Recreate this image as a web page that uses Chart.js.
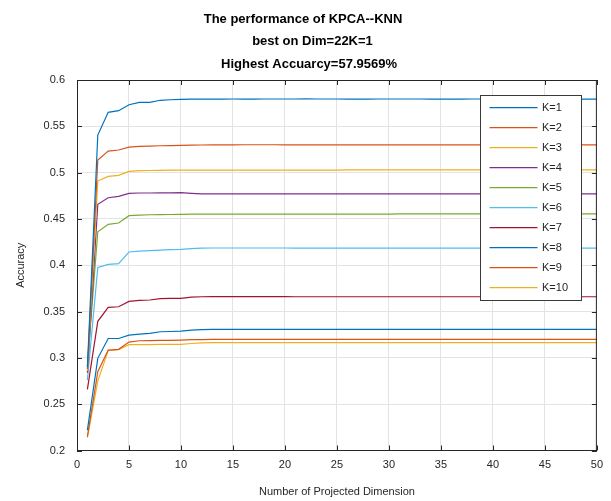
<!DOCTYPE html>
<html>
<head>
<meta charset="utf-8">
<script src="https://cdn.jsdelivr.net/npm/chart.js@4/dist/chart.umd.min.js"></script>
<style>
  html, body { margin: 0; padding: 0; background: #ffffff; }
  #wrap { width: 611px; height: 501px; position: relative; }
</style>
</head>
<body>
<div id="wrap"><canvas id="c" width="611" height="501"></canvas></div>
<script>
// Projected dimensions (x axis)
const dims = [1,2,3,4,5,6,7,8,9,10,11,12,13,14,15,16,17,18,19,20,21,22,23,24,25,
              26,27,28,29,30,31,32,33,34,35,36,37,38,39,40,41,42,43,44,45,46,47,48,49,50];

// Accuracy per number of neighbours K
const accK1 = [0.2900,0.5406,0.5651,0.5669,0.5733,0.5759,0.5759,0.5781,0.5787,0.5791,
               0.5793,0.5794,0.5794,0.5794,0.5795,0.5794,0.5794,0.5795,0.5795,0.5795,
               0.5795,0.579569,0.5795,0.5795,0.5795,0.5794,0.5794,0.5794,0.5795,0.5795,
               0.5795,0.5795,0.5795,0.5794,0.5794,0.5794,0.5794,0.5795,0.5795,0.5795,
               0.5795,0.5795,0.5795,0.5795,0.5794,0.5794,0.5794,0.5794,0.5794,0.5794];
const accK2 = [0.2880,0.5136,0.5233,0.5244,0.5276,0.5284,0.5287,0.5290,0.5292,0.5295,
               0.5297,0.5298,0.5299,0.5300,0.5300,0.5301,0.5301,0.5301,0.5301,0.5300,
               0.5300,0.5300,0.5300,0.5300,0.5300,0.5300,0.5300,0.5300,0.5300,0.5300,
               0.5300,0.5300,0.5300,0.5300,0.5300,0.5300,0.5300,0.5300,0.5300,0.5300,
               0.5300,0.5300,0.5300,0.5300,0.5300,0.5300,0.5300,0.5300,0.5300,0.5300];
const accK3 = [0.2860,0.4909,0.4960,0.4971,0.5014,0.5021,0.5023,0.5025,0.5026,0.5027,
               0.5028,0.5028,0.5028,0.5028,0.5028,0.5028,0.5028,0.5028,0.5028,0.5028,
               0.5028,0.5028,0.5028,0.5028,0.5028,0.5029,0.5029,0.5029,0.5029,0.5029,
               0.5029,0.5029,0.5029,0.5029,0.5029,0.5029,0.5030,0.5030,0.5030,0.5030,
               0.5030,0.5030,0.5030,0.5030,0.5030,0.5030,0.5030,0.5030,0.5030,0.5030];
const accK4 = [0.2840,0.4658,0.4729,0.4744,0.4776,0.4780,0.4780,0.4781,0.4782,0.4783,
               0.4776,0.4771,0.4770,0.4770,0.4770,0.4770,0.4770,0.4770,0.4770,0.4770,
               0.4770,0.4770,0.4770,0.4770,0.4770,0.4770,0.4770,0.4770,0.4770,0.4770,
               0.4770,0.4771,0.4771,0.4771,0.4771,0.4771,0.4771,0.4771,0.4770,0.4770,
               0.4770,0.4770,0.4770,0.4770,0.4770,0.4770,0.4770,0.4770,0.4770,0.4770];
const accK5 = [0.2920,0.4362,0.4442,0.4456,0.4535,0.4542,0.4545,0.4547,0.4548,0.4550,
               0.4552,0.4553,0.4553,0.4553,0.4553,0.4553,0.4553,0.4553,0.4553,0.4553,
               0.4553,0.4553,0.4553,0.4553,0.4553,0.4553,0.4553,0.4553,0.4553,0.4553,
               0.4554,0.4554,0.4554,0.4554,0.4554,0.4554,0.4554,0.4554,0.4554,0.4554,
               0.4554,0.4554,0.4554,0.4554,0.4554,0.4554,0.4554,0.4554,0.4554,0.4554];
const accK6 = [0.2760,0.3977,0.4010,0.4017,0.4143,0.4153,0.4158,0.4164,0.4168,0.4171,
               0.4180,0.4185,0.4186,0.4186,0.4186,0.4186,0.4186,0.4186,0.4186,0.4186,
               0.4185,0.4185,0.4185,0.4185,0.4185,0.4185,0.4185,0.4185,0.4185,0.4185,
               0.4185,0.4185,0.4185,0.4185,0.4185,0.4185,0.4185,0.4185,0.4185,0.4185,
               0.4185,0.4185,0.4185,0.4185,0.4185,0.4185,0.4185,0.4185,0.4185,0.4185];
const accK7 = [0.2660,0.3395,0.3545,0.3552,0.3610,0.3621,0.3625,0.3640,0.3642,0.3642,
               0.3655,0.3660,0.3661,0.3661,0.3661,0.3661,0.3661,0.3661,0.3661,0.3661,
               0.3660,0.3660,0.3660,0.3660,0.3660,0.3660,0.3660,0.3660,0.3660,0.3660,
               0.3660,0.3660,0.3660,0.3660,0.3660,0.3660,0.3660,0.3660,0.3660,0.3660,
               0.3660,0.3660,0.3660,0.3660,0.3660,0.3660,0.3660,0.3660,0.3660,0.3660];
const accK8 = [0.2220,0.2995,0.3209,0.3209,0.3246,0.3257,0.3265,0.3282,0.3285,0.3289,
               0.3300,0.3306,0.3307,0.3308,0.3308,0.3308,0.3308,0.3308,0.3308,0.3308,
               0.3308,0.3308,0.3308,0.3308,0.3308,0.3308,0.3308,0.3308,0.3308,0.3308,
               0.3308,0.3308,0.3308,0.3308,0.3308,0.3308,0.3308,0.3308,0.3308,0.3308,
               0.3308,0.3308,0.3308,0.3308,0.3308,0.3308,0.3308,0.3308,0.3308,0.3308];
const accK9 = [0.2150,0.2850,0.3084,0.3092,0.3170,0.3185,0.3187,0.3189,0.3190,0.3192,
               0.3196,0.3198,0.3199,0.3200,0.3200,0.3200,0.3200,0.3200,0.3200,0.3200,
               0.3200,0.3200,0.3200,0.3200,0.3200,0.3200,0.3200,0.3200,0.3200,0.3200,
               0.3200,0.3200,0.3200,0.3200,0.3200,0.3200,0.3200,0.3200,0.3200,0.3200,
               0.3200,0.3200,0.3200,0.3200,0.3200,0.3200,0.3200,0.3200,0.3200,0.3200];
const accK10 = [0.2140,0.2750,0.3080,0.3088,0.3142,0.3142,0.3143,0.3145,0.3146,0.3146,
                0.3155,0.3162,0.3164,0.3164,0.3164,0.3164,0.3164,0.3164,0.3164,0.3164,
                0.3164,0.3164,0.3164,0.3164,0.3164,0.3164,0.3164,0.3164,0.3164,0.3164,
                0.3164,0.3164,0.3164,0.3164,0.3164,0.3164,0.3164,0.3164,0.3164,0.3164,
                0.3164,0.3164,0.3164,0.3164,0.3164,0.3164,0.3164,0.3164,0.3164,0.3164];

const seriesNames = ['K=1','K=2','K=3','K=4','K=5','K=6','K=7','K=8','K=9','K=10'];
const seriesValues = [accK1,accK2,accK3,accK4,accK5,accK6,accK7,accK8,accK9,accK10];
const seriesColors = ['#0072BD','#D95319','#EDB120','#7E2F8E','#77AC30',
                      '#4DBEEE','#A2142F','#0072BD','#D95319','#EDB120'];

const titleLines = ['The performance of KPCA--KNN', 'best on Dim=22K=1', 'Highest Accuarcy=57.9569%'];
const xAxisTitle = 'Number of Projected Dimension';
const yAxisTitle = 'Accuracy';

const FONT = '"Liberation Sans", Arial, Helvetica, sans-serif';
const INK = '#262626';

// Titles, axis labels, box outline with inward ticks, and the in-plot legend
const decorations = {
  id: 'decorations',
  afterDatasetsDraw(chart) {
    const ctx = chart.ctx;
    const a = chart.chartArea;
    const xs = chart.scales.x, ys = chart.scales.y;
    ctx.save();

    // box outline
    ctx.strokeStyle = INK;
    ctx.lineWidth = 1;
    ctx.beginPath();
    ctx.moveTo(a.left, a.top + 0.5); ctx.lineTo(a.right, a.top + 0.5);
    ctx.moveTo(a.right - 0.5, a.top); ctx.lineTo(a.right - 0.5, a.bottom);
    ctx.stroke();

    // inward tick marks on all four sides
    const tl = 5;
    ctx.beginPath();
    xs.ticks.forEach(t => {
      const px = Math.round(xs.getPixelForValue(t.value)) + 0.5;
      ctx.moveTo(px, a.bottom); ctx.lineTo(px, a.bottom - tl);
      ctx.moveTo(px, a.top); ctx.lineTo(px, a.top + tl);
    });
    ys.ticks.forEach(t => {
      const py = Math.round(ys.getPixelForValue(t.value)) + 0.5;
      ctx.moveTo(a.left, py); ctx.lineTo(a.left + tl, py);
      ctx.moveTo(a.right, py); ctx.lineTo(a.right - tl, py);
    });
    ctx.stroke();

    // title lines
    ctx.fillStyle = '#000000';
    ctx.font = 'bold 13px ' + FONT;
    ctx.textAlign = 'center';
    ctx.textBaseline = 'alphabetic';
    ctx.fillText(titleLines[0], 303, 22.5);
    ctx.fillText(titleLines[1], 312.5, 44.5);
    ctx.fillText(titleLines[2], 309, 68.3);

    // axis titles
    ctx.fillStyle = INK;
    ctx.font = '11px ' + FONT;
    ctx.fillText(xAxisTitle, (a.left + a.right) / 2, 495);
    ctx.save();
    ctx.translate(24, (a.top + a.bottom) / 2);
    ctx.rotate(-Math.PI / 2);
    ctx.fillText(yAxisTitle, 0, 0);
    ctx.restore();

    // legend box
    const lx = 480.5, ly = 95.5, lw = 101, lh = 205;
    ctx.fillStyle = '#ffffff';
    ctx.fillRect(lx, ly, lw, lh);
    ctx.strokeStyle = '#3a3a3a';
    ctx.strokeRect(lx, ly, lw, lh);
    ctx.font = '11px ' + FONT;
    ctx.textAlign = 'left';
    ctx.textBaseline = 'middle';
    chart.data.datasets.forEach((ds, i) => {
      const y = 107.7 + i * 20;
      ctx.strokeStyle = ds.borderColor;
      ctx.lineWidth = 1.2;
      ctx.beginPath();
      ctx.moveTo(489.5, y); ctx.lineTo(537.5, y);
      ctx.stroke();
      ctx.fillStyle = INK;
      ctx.fillText(ds.label, 542, y);
    });

    ctx.restore();
  }
};

const datasets = seriesNames.map((name, i) => ({
  label: name,
  data: dims.map((d, j) => ({ x: d, y: seriesValues[i][j] })),
  borderColor: seriesColors[i],
  backgroundColor: seriesColors[i],
  borderWidth: 1.2,
  pointRadius: 0,
  fill: false,
  tension: 0
}));

new Chart(document.getElementById('c'), {
  type: 'line',
  data: { datasets },
  options: {
    responsive: false,
    animation: false,
    events: [],
    layout: { padding: { left: 0, top: 80, right: 14, bottom: 0 } },
    plugins: { legend: { display: false }, title: { display: false }, tooltip: { enabled: false } },
    scales: {
      x: {
        type: 'linear',
        min: 0, max: 50,
        afterFit: s => { s.height = 50.5; },
        ticks: { stepSize: 5, color: INK, font: { family: FONT, size: 11 }, padding: 8, maxRotation: 0 },
        grid: { color: '#e3e3e3', drawTicks: false },
        border: { display: true, color: INK, width: 1 }
      },
      y: {
        min: 0.2, max: 0.6,
        afterFit: s => { s.width = 77; },
        ticks: {
          stepSize: 0.05, color: INK, font: { family: FONT, size: 11 }, padding: 12,
          callback: v => String(Math.round(v * 100) / 100)
        },
        grid: { color: '#e3e3e3', drawTicks: false },
        border: { display: true, color: INK, width: 1 }
      }
    }
  },
  plugins: [decorations]
});
</script>
</body>
</html>
